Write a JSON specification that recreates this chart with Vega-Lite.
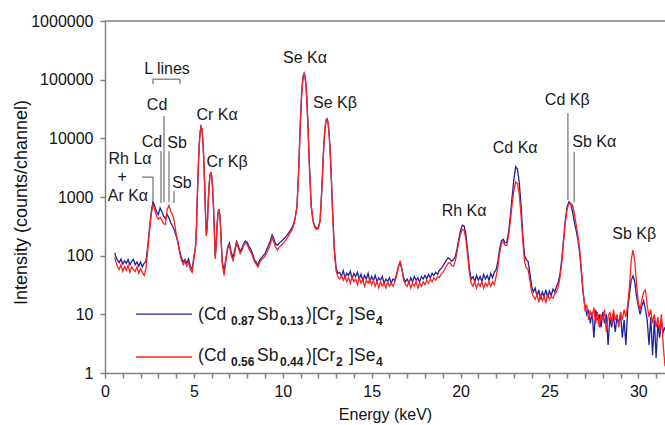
{
 "$schema": "https://vega.github.io/schema/vega-lite/v6.json",
 "width": 560,
 "height": 352,
 "autosize": {"type": "none"},
 "padding": {"left": 105, "top": 21, "right": 0, "bottom": 52},
 "background": "white",
 "config": {"view": {"stroke": null}, "font": "Liberation Sans", "axisX": {"labelOverlap": false, "labelSeparation": 0}},
 "datasets": {
  "spec": [
   {"e":0.55,"b":112,"r":94},{"e":0.6,"b":98,"r":80},{"e":0.7,"b":84,"r":66},{"e":0.8,"b":76,"r":58},{"e":0.9,"b":88,"r":70},
   {"e":1.0,"b":72,"r":54},{"e":1.1,"b":82,"r":66},{"e":1.2,"b":74,"r":56},{"e":1.3,"b":86,"r":68},{"e":1.4,"b":70,"r":52},
   {"e":1.5,"b":80,"r":64},{"e":1.6,"b":86,"r":58},{"e":1.7,"b":70,"r":54},{"e":1.8,"b":78,"r":64},{"e":1.9,"b":66,"r":50},
   {"e":2.0,"b":78,"r":60},{"e":2.1,"b":64,"r":52},{"e":2.2,"b":74,"r":46},{"e":2.3,"b":80,"r":60},{"e":2.4,"b":140,"r":120},
   {"e":2.5,"b":290,"r":260},{"e":2.6,"b":560,"r":500},{"e":2.7,"b":840,"r":760},{"e":2.8,"b":690,"r":610},{"e":2.9,"b":560,"r":470},
   {"e":3.0,"b":500,"r":420},{"e":3.1,"b":650,"r":450},{"e":3.2,"b":560,"r":400},{"e":3.3,"b":470,"r":350},{"e":3.4,"b":430,"r":340},
   {"e":3.5,"b":500,"r":620},{"e":3.6,"b":440,"r":720},{"e":3.7,"b":360,"r":560},{"e":3.8,"b":320,"r":500},{"e":3.9,"b":270,"r":380},
   {"e":4.0,"b":220,"r":240},{"e":4.1,"b":170,"r":170},{"e":4.2,"b":120,"r":110},{"e":4.3,"b":92,"r":84},{"e":4.4,"b":78,"r":70},
   {"e":4.5,"b":86,"r":80},{"e":4.6,"b":74,"r":66},{"e":4.7,"b":88,"r":78},{"e":4.8,"b":66,"r":58},{"e":4.9,"b":58,"r":52},
   {"e":5.0,"b":95,"r":90},{"e":5.1,"b":150,"r":145},{"e":5.15,"b":340,"r":340},{"e":5.2,"b":1150,"r":1150},{"e":5.25,"b":3300,"r":3300},
   {"e":5.3,"b":7600,"r":7600},{"e":5.35,"b":12800,"r":12800},{"e":5.4,"b":15900,"r":15900},{"e":5.45,"b":14500,"r":14500},{"e":5.5,"b":9700,"r":9700},
   {"e":5.55,"b":4800,"r":4800},{"e":5.6,"b":1800,"r":1800},{"e":5.65,"b":560,"r":560},{"e":5.7,"b":230,"r":215},{"e":5.75,"b":310,"r":300},
   {"e":5.8,"b":730,"r":730},{"e":5.85,"b":1480,"r":1480},{"e":5.9,"b":2300,"r":2300},{"e":5.95,"b":2650,"r":2650},{"e":6.0,"b":2300,"r":2300},
   {"e":6.05,"b":1450,"r":1450},{"e":6.1,"b":700,"r":700},{"e":6.15,"b":270,"r":260},{"e":6.2,"b":100,"r":88},{"e":6.25,"b":150,"r":140},
   {"e":6.3,"b":320,"r":310},{"e":6.35,"b":510,"r":500},{"e":6.4,"b":620,"r":610},{"e":6.45,"b":510,"r":500},{"e":6.5,"b":320,"r":310},
   {"e":6.55,"b":150,"r":140},{"e":6.6,"b":78,"r":70},{"e":6.7,"b":56,"r":46},{"e":6.8,"b":90,"r":82},{"e":6.9,"b":140,"r":130},
   {"e":7.0,"b":165,"r":150},{"e":7.1,"b":115,"r":100},{"e":7.2,"b":92,"r":82},{"e":7.3,"b":125,"r":112},{"e":7.4,"b":175,"r":165},
   {"e":7.5,"b":148,"r":135},{"e":7.6,"b":118,"r":108},{"e":7.7,"b":135,"r":122},{"e":7.8,"b":160,"r":150},{"e":7.9,"b":178,"r":165},
   {"e":8.0,"b":168,"r":155},{"e":8.1,"b":145,"r":130},{"e":8.2,"b":128,"r":115},{"e":8.3,"b":108,"r":98},{"e":8.4,"b":86,"r":80},
   {"e":8.5,"b":78,"r":72},{"e":8.6,"b":68,"r":64},{"e":8.7,"b":84,"r":76},{"e":8.8,"b":92,"r":86},{"e":8.9,"b":100,"r":90},
   {"e":9.0,"b":108,"r":98},{"e":9.1,"b":128,"r":112},{"e":9.2,"b":150,"r":130},{"e":9.3,"b":180,"r":158},{"e":9.4,"b":225,"r":200},
   {"e":9.5,"b":195,"r":168},{"e":9.6,"b":158,"r":138},{"e":9.7,"b":150,"r":125},{"e":9.8,"b":165,"r":140},{"e":9.9,"b":172,"r":148},
   {"e":10.0,"b":185,"r":160},{"e":10.1,"b":198,"r":172},{"e":10.2,"b":215,"r":188},{"e":10.3,"b":238,"r":212},{"e":10.4,"b":262,"r":238},
   {"e":10.5,"b":295,"r":272},{"e":10.6,"b":340,"r":320},{"e":10.7,"b":450,"r":430},{"e":10.8,"b":700,"r":690},{"e":10.9,"b":3050,"r":3050},
   {"e":10.95,"b":8900,"r":8900},{"e":11.0,"b":22400,"r":22400},{"e":11.05,"b":48000,"r":48000},{"e":11.1,"b":82600,"r":82600},{"e":11.15,"b":114500,"r":114500},
   {"e":11.2,"b":127600,"r":127600},{"e":11.25,"b":114500,"r":114500},{"e":11.3,"b":82600,"r":82600},{"e":11.35,"b":48000,"r":48000},{"e":11.4,"b":22400,"r":22400},
   {"e":11.45,"b":8700,"r":8700},{"e":11.5,"b":3350,"r":3350},{"e":11.6,"b":700,"r":700},{"e":11.7,"b":400,"r":390},{"e":11.8,"b":320,"r":300},
   {"e":11.9,"b":292,"r":280},{"e":12.0,"b":300,"r":290},{"e":12.1,"b":400,"r":390},{"e":12.2,"b":1430,"r":1430},{"e":12.3,"b":6700,"r":6700},
   {"e":12.35,"b":11800,"r":11800},{"e":12.4,"b":17100,"r":17100},{"e":12.45,"b":21000,"r":21000},{"e":12.5,"b":21500,"r":21500},{"e":12.55,"b":18100,"r":18100},
   {"e":12.6,"b":12600,"r":12600},{"e":12.65,"b":7400,"r":7400},{"e":12.7,"b":3500,"r":3500},{"e":12.75,"b":1500,"r":1500},{"e":12.8,"b":600,"r":590},
   {"e":12.9,"b":130,"r":120},{"e":13.0,"b":62,"r":55},{"e":13.1,"b":50,"r":44},{"e":13.2,"b":52,"r":40},{"e":13.3,"b":44,"r":46},
   {"e":13.4,"b":56,"r":38},{"e":13.5,"b":42,"r":44},{"e":13.6,"b":50,"r":36},{"e":13.7,"b":46,"r":42},{"e":13.8,"b":54,"r":34},
   {"e":13.9,"b":40,"r":44},{"e":14.0,"b":50,"r":36},{"e":14.1,"b":44,"r":40},{"e":14.2,"b":52,"r":32},{"e":14.3,"b":40,"r":42},
   {"e":14.4,"b":48,"r":34},{"e":14.5,"b":38,"r":40},{"e":14.6,"b":46,"r":30},{"e":14.7,"b":40,"r":38},{"e":14.8,"b":50,"r":34},
   {"e":14.9,"b":36,"r":40},{"e":15.0,"b":44,"r":32},{"e":15.1,"b":38,"r":38},{"e":15.2,"b":46,"r":30},{"e":15.3,"b":36,"r":36},
   {"e":15.4,"b":42,"r":28},{"e":15.5,"b":38,"r":36},{"e":15.6,"b":44,"r":30},{"e":15.7,"b":34,"r":34},{"e":15.8,"b":40,"r":28},
   {"e":15.9,"b":36,"r":36},{"e":16.0,"b":42,"r":30},{"e":16.1,"b":34,"r":34},{"e":16.2,"b":40,"r":30},{"e":16.3,"b":38,"r":36},
   {"e":16.4,"b":48,"r":44},{"e":16.5,"b":65,"r":62},{"e":16.6,"b":76,"r":82},{"e":16.7,"b":58,"r":60},{"e":16.8,"b":42,"r":38},
   {"e":16.9,"b":36,"r":32},{"e":17.0,"b":40,"r":30},{"e":17.1,"b":34,"r":36},{"e":17.2,"b":42,"r":28},{"e":17.3,"b":36,"r":34},
   {"e":17.4,"b":44,"r":30},{"e":17.5,"b":38,"r":36},{"e":17.6,"b":42,"r":28},{"e":17.7,"b":36,"r":34},{"e":17.8,"b":44,"r":30},
   {"e":17.9,"b":40,"r":36},{"e":18.0,"b":46,"r":32},{"e":18.1,"b":40,"r":38},{"e":18.2,"b":48,"r":34},{"e":18.3,"b":42,"r":40},
   {"e":18.4,"b":50,"r":36},{"e":18.5,"b":46,"r":42},{"e":18.6,"b":52,"r":38},{"e":18.7,"b":48,"r":44},{"e":18.8,"b":56,"r":42},
   {"e":18.9,"b":60,"r":48},{"e":19.0,"b":66,"r":52},{"e":19.1,"b":74,"r":58},{"e":19.2,"b":84,"r":66},{"e":19.3,"b":92,"r":74},
   {"e":19.4,"b":88,"r":76},{"e":19.5,"b":80,"r":68},{"e":19.6,"b":86,"r":66},{"e":19.7,"b":95,"r":80},{"e":19.8,"b":130,"r":115},
   {"e":19.9,"b":190,"r":170},{"e":20.0,"b":270,"r":235},{"e":20.1,"b":330,"r":280},{"e":20.2,"b":320,"r":270},{"e":20.3,"b":230,"r":190},
   {"e":20.4,"b":120,"r":100},{"e":20.5,"b":60,"r":50},{"e":20.6,"b":40,"r":34},{"e":20.7,"b":44,"r":30},{"e":20.8,"b":36,"r":36},
   {"e":20.9,"b":46,"r":28},{"e":21.0,"b":38,"r":34},{"e":21.1,"b":44,"r":30},{"e":21.2,"b":36,"r":36},{"e":21.3,"b":48,"r":28},
   {"e":21.4,"b":40,"r":34},{"e":21.5,"b":46,"r":30},{"e":21.6,"b":38,"r":36},{"e":21.7,"b":50,"r":30},{"e":21.8,"b":42,"r":36},
   {"e":21.9,"b":52,"r":32},{"e":22.0,"b":58,"r":44},{"e":22.1,"b":80,"r":64},{"e":22.2,"b":130,"r":110},{"e":22.3,"b":180,"r":160},
   {"e":22.4,"b":190,"r":175},{"e":22.5,"b":165,"r":150},{"e":22.6,"b":170,"r":150},{"e":22.7,"b":250,"r":220},{"e":22.8,"b":480,"r":380},
   {"e":22.9,"b":1000,"r":750},{"e":23.0,"b":2000,"r":1300},{"e":23.1,"b":3300,"r":1800},{"e":23.2,"b":3000,"r":1700},{"e":23.3,"b":1800,"r":1100},
   {"e":23.4,"b":750,"r":500},{"e":23.5,"b":230,"r":180},{"e":23.6,"b":100,"r":80},{"e":23.7,"b":85,"r":62},{"e":23.8,"b":80,"r":58},
   {"e":23.9,"b":50,"r":38},{"e":24.0,"b":30,"r":24},{"e":24.1,"b":24,"r":20},{"e":24.2,"b":28,"r":18},{"e":24.3,"b":20,"r":22},
   {"e":24.4,"b":26,"r":16},{"e":24.5,"b":18,"r":22},{"e":24.6,"b":24,"r":17},{"e":24.7,"b":20,"r":20},{"e":24.8,"b":26,"r":16},
   {"e":24.9,"b":19,"r":22},{"e":25.0,"b":25,"r":18},{"e":25.1,"b":21,"r":20},{"e":25.2,"b":27,"r":19},{"e":25.3,"b":24,"r":22},
   {"e":25.4,"b":30,"r":24},{"e":25.5,"b":36,"r":30},{"e":25.6,"b":50,"r":44},{"e":25.7,"b":90,"r":80},{"e":25.8,"b":200,"r":180},
   {"e":25.9,"b":420,"r":380},{"e":26.0,"b":700,"r":640},{"e":26.1,"b":830,"r":760},{"e":26.2,"b":760,"r":780},{"e":26.3,"b":560,"r":720},
   {"e":26.4,"b":380,"r":520},{"e":26.5,"b":270,"r":340},{"e":26.6,"b":190,"r":220},{"e":26.7,"b":110,"r":130},{"e":26.8,"b":50,"r":55},
   {"e":26.9,"b":22,"r":24},{"e":27.0,"b":14,"r":12},{"e":27.1,"b":10,"r":14},{"e":27.2,"b":12,"r":8},{"e":27.3,"b":7,"r":11},
   {"e":27.4,"b":11,"r":9},{"e":27.5,"b":4,"r":13},{"e":27.6,"b":12,"r":7},{"e":27.7,"b":8,"r":11},{"e":27.8,"b":10,"r":6},
   {"e":27.9,"b":6,"r":10},{"e":28.0,"b":11,"r":8},{"e":28.1,"b":7,"r":12},{"e":28.2,"b":10,"r":5},{"e":28.3,"b":3,"r":9},
   {"e":28.4,"b":9,"r":11},{"e":28.5,"b":6,"r":7},{"e":28.6,"b":10,"r":12},{"e":28.7,"b":5,"r":8},{"e":28.8,"b":9,"r":10},
   {"e":28.9,"b":7,"r":6},{"e":29.0,"b":10,"r":11},{"e":29.1,"b":4,"r":8},{"e":29.2,"b":8,"r":12},{"e":29.3,"b":3,"r":9},
   {"e":29.4,"b":12,"r":14},{"e":29.5,"b":22,"r":30},{"e":29.6,"b":38,"r":85},{"e":29.7,"b":45,"r":125},{"e":29.8,"b":36,"r":80},
   {"e":29.9,"b":20,"r":32},{"e":30.0,"b":14,"r":16},{"e":30.1,"b":10,"r":12},{"e":30.2,"b":14,"r":18},{"e":30.3,"b":17,"r":24},
   {"e":30.4,"b":12,"r":26},{"e":30.5,"b":8,"r":14},{"e":30.6,"b":3,"r":9},{"e":30.7,"b":9,"r":12},{"e":30.8,"b":2,"r":7},
   {"e":30.9,"b":8,"r":10},{"e":31.0,"b":1.8,"r":6},{"e":31.1,"b":7,"r":9},{"e":31.2,"b":4,"r":5},{"e":31.3,"b":8,"r":10},
   {"e":31.4,"b":5,"r":3},{"e":31.5,"b":6,"r":1.3}
  ],
  "frame": [{"e":0,"e2":31.5,"v":1000000}],
  "labels": [
   {"t":"Se K\u03b1","e":11.25,"v":232000},
   {"t":"Se K\u03b2","e":12.94,"v":39800},
   {"t":"L lines","e":3.49,"v":151000},
   {"t":"Cd","e":2.93,"v":36800},
   {"t":"Cd","e":2.64,"v":8610},
   {"t":"Sb","e":4.05,"v":8280},
   {"t":"Sb","e":4.33,"v":1726},
   {"t":"Rh L\u03b1","e":1.41,"v":4424},
   {"t":"+","e":0.96,"v":2183},
   {"t":"Ar K\u03b1","e":1.29,"v":1036},
   {"t":"Cr K\u03b1","e":6.30,"v":24850},
   {"t":"Cr K\u03b2","e":6.87,"v":3934},
   {"t":"Rh K\u03b1","e":20.20,"v":575},
   {"t":"Cd K\u03b1","e":23.07,"v":6808},
   {"t":"Cd K\u03b2","e":26.0,"v":44760},
   {"t":"Sb K\u03b1","e":27.52,"v":8610},
   {"t":"Sb K\u03b2","e":29.77,"v":233}
  ],
  "segs": [
   {"e":3.32,"e2":3.32,"v":23900,"v2":819},
   {"e":3.15,"e2":3.15,"v":6050,"v2":787},
   {"e":3.60,"e2":3.60,"v":6050,"v2":819},
   {"e":3.88,"e2":3.88,"v":1260,"v2":787},
   {"e":2.08,"e2":2.70,"v":2183,"v2":2183},
   {"e":2.70,"e2":2.70,"v":2183,"v2":885},
   {"e":2.70,"e2":4.22,"v":102000,"v2":102000},
   {"e":2.70,"e2":2.70,"v":102000,"v2":83800},
   {"e":4.22,"e2":4.22,"v":102000,"v2":83800},
   {"e":26.04,"e2":26.04,"v":26900,"v2":885},
   {"e":26.39,"e2":26.39,"v":5820,"v2":819}
  ],
  "legLines": [
   {"s":"b","e":1.74,"e2":4.90,"v":10.12},
   {"s":"r","e":1.74,"e2":4.90,"v":1.873}
  ],
  "legMain": [
   {"t":"(Cd","e":5.234,"v":9.73},{"t":"Sb","e":8.554,"v":9.73},{"t":")[Cr","e":11.311,"v":9.73},{"t":"]Se","e":13.731,"v":9.73},
   {"t":"(Cd","e":5.234,"v":1.948},{"t":"Sb","e":8.554,"v":1.948},{"t":")[Cr","e":11.311,"v":1.948},{"t":"]Se","e":13.731,"v":1.948}
  ],
  "legSub": [
   {"t":"0.87","e":7.091,"v":9.73},{"t":"0.13","e":9.848,"v":9.73},{"t":"2","e":12.999,"v":9.73},{"t":"4","e":15.25,"v":9.73},
   {"t":"0.56","e":7.091,"v":1.948},{"t":"0.44","e":9.848,"v":1.948},{"t":"2","e":12.999,"v":1.948},{"t":"4","e":15.25,"v":1.948}
  ]
 },
 "encoding": {
  "x": {"field": "e", "type": "quantitative",
   "scale": {"domain": [0, 31.5], "nice": false, "zero": false},
   "axis": {"values": [0,1,2,3,4,5,6,7,8,9,10,11,12,13,14,15,16,17,18,19,20,21,22,23,24,25,26,27,28,29,30,31],
    "labelExpr": "datum.value % 5 === 0 ? datum.label : ''", "format": "d",
    "grid": false, "domainColor": "#808080", "domainWidth": 1.5, "tickColor": "#808080", "tickWidth": 1.5, "tickSize": 5,
    "labelFontSize": 16, "labelColor": "#111", "labelPadding": 5, "labelFlush": false, "labelOverlap": false, "labelBound": false,
    "title": "Energy (keV)", "titleFontSize": 16, "titleFontWeight": "normal", "titleColor": "#111",
    "titleY": 41, "titleBaseline": "middle"}},
  "y": {"field": "v", "type": "quantitative",
   "scale": {"type": "log", "domain": [1, 1000000], "nice": false},
   "axis": {"values": [1,10,100,1000,10000,100000,1000000], "format": "d",
    "grid": false, "domainColor": "#808080", "domainWidth": 1.5, "tickColor": "#808080", "tickWidth": 1.5, "tickSize": 5,
    "labelFontSize": 16, "labelColor": "#111", "labelPadding": 7,
    "title": "Intensity (counts/channel)", "titleFontSize": 18, "titleFontWeight": "normal", "titleColor": "#111",
    "titleX": -79, "titleY": 181, "titleBaseline": "alphabetic", "titleAngle": -90}}
 },
 "layer": [
  {
   "data": {"name": "spec"},
   "transform": [{"fold": ["b", "r"], "as": ["s", "v"]}],
   "mark": {"type": "line", "strokeWidth": 1.3, "clip": true},
   "encoding": {
    "color": {"field": "s", "type": "nominal", "scale": {"domain": ["b", "r"], "range": ["#20209a", "#ff2020"]}, "legend": null}
   }
  },
  {
   "data": {"name": "frame"},
   "mark": {"type": "rule", "color": "#808080", "strokeWidth": 1.5},
   "encoding": {"x2": {"field": "e2"}}
  },
  {
   "data": {"name": "segs"},
   "mark": {"type": "rule", "color": "#555555", "strokeWidth": 1},
   "encoding": {"x2": {"field": "e2"}, "y2": {"field": "v2"}}
  },
  {
   "data": {"name": "labels"},
   "mark": {"type": "text", "fontSize": 16, "align": "center", "baseline": "middle", "color": "#1a1a1a"},
   "encoding": {"text": {"field": "t"}}
  },
  {
   "data": {"name": "legLines"},
   "mark": {"type": "rule", "strokeWidth": 1.3},
   "encoding": {
    "x2": {"field": "e2"},
    "color": {"field": "s", "type": "nominal", "scale": {"domain": ["b", "r"], "range": ["#20209a", "#ff2020"]}, "legend": null}
   }
  },
  {
   "data": {"name": "legMain"},
   "mark": {"type": "text", "fontSize": 17.5, "align": "left", "baseline": "middle", "color": "#1a1a1a"},
   "encoding": {"text": {"field": "t"}}
  },
  {
   "data": {"name": "legSub"},
   "mark": {"type": "text", "fontSize": 12, "fontWeight": "bold", "align": "left", "baseline": "middle", "dy": 6, "color": "#1a1a1a"},
   "encoding": {"text": {"field": "t"}}
  }
 ]
}
